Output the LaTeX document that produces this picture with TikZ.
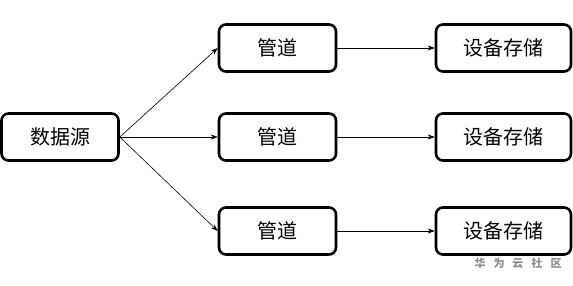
\documentclass[tikz,border=0pt]{standalone}
\usepackage{fontspec}
\setmainfont{Noto Sans CJK SC}
\usetikzlibrary{arrows.meta}
\begin{document}
\begin{tikzpicture}[x=1pt,y=1pt, every node/.style={font=\fontsize{20}{23}\selectfont},
  box/.style={draw, line width=2.6pt, rounded corners=7pt, minimum width=117pt, minimum height=47pt, inner sep=0pt},
  wide/.style={box, minimum width=135pt},
  link/.style={-{Stealth[length=7pt,width=5pt]}, line width=0.6pt}]
\useasboundingbox (0,0) rectangle (573,285);
\node[box] (src) at (60,148) {数据源};
\node[box] (p1) at (277.5,237) {管道};
\node[box] (p2) at (277.5,148) {管道};
\node[box] (p3) at (277.5,54) {管道};
\node[wide] (s1) at (503.5,237) {设备存储};
\node[wide] (s2) at (503.5,148) {设备存储};
\node[wide] (s3) at (503.5,54) {设备存储};
\draw[link] (src.east) -- (p1.west);
\draw[link] (src.east) -- (p2.west);
\draw[link] (src.east) -- (p3.west);
\draw[link] (p1) -- (s1);
\draw[link] (p2) -- (s2);
\draw[link] (p3) -- (s3);
% watermark
\node[text=black!45, font=\fontsize{11}{13}\selectfont\bfseries] (mark) at (518,22) {华\hspace{8pt}为\hspace{8pt}云\hspace{8pt}社\hspace{8pt}区};
\end{tikzpicture}
\end{document}
